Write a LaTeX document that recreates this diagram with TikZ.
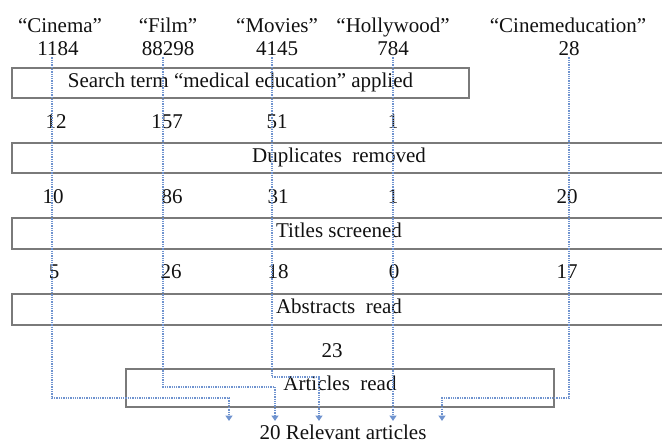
\documentclass[tikz,border=0pt]{standalone}
\usepackage{fontspec}
\setmainfont{Liberation Serif}
\usepackage{xcolor}
\usepackage{tikz}
\usetikzlibrary{arrows.meta,positioning,calc}
\definecolor{boxgray}{HTML}{7A7A7A}
\definecolor{flowblue}{HTML}{6F93CF}
\definecolor{inkgray}{HTML}{111111}
\tikzset{
  stagebox/.style={draw=boxgray,line width=1.2pt,inner sep=0pt,
    minimum height=30pt,text height=0.8em,text depth=0pt,
    text=inkgray,font=\fontsize{21}{24}\selectfont},
  tally/.style={anchor=base,inner sep=2pt,text=inkgray,
    font=\fontsize{21}{24}\selectfont},
  flowarrow/.style={-{Triangle[length=5.5pt,width=7pt]},densely dotted,
    line width=1.3pt,draw=flowblue}
}

\begin{document}
\begin{tikzpicture}[x=1pt,y=-1pt]
\useasboundingbox (0,0) rectangle (662,445);
% search terms and hits
\node[tally] (tCinema) at (60,32) {“Cinema”};
\node[tally] (tFilm) at (168,32) {“Film”};
\node[tally] (tMovies) at (277,32) {“Movies”};
\node[tally] (tHolly) at (393,32) {“Hollywood”};
\node[tally] (tCinemed) at (568,32) {“Cinemeducation”};
\node[tally] (n1184) at (58,55) {1184};
\node[tally] (n88298) at (168,55) {88298};
\node[tally] (n4145) at (277,55) {4145};
\node[tally] (n784) at (393,55) {784};
\node[tally] (n28) at (569,55) {28};
% screening stages
\node[stagebox,minimum width=457pt] (search) at (240.5,83) {Search term “medical education” applied};
\node[stagebox,minimum width=654pt] (dupes) at (339,158) {Duplicates\ \ removed};
\node[stagebox,minimum width=654pt,minimum height=31pt] (titles) at (339,233.5) {Titles screened};
\node[stagebox,minimum width=654pt,minimum height=31pt] (abstracts) at (339,309.5) {Abstracts\ \ read};
\node[stagebox,minimum width=428pt,minimum height=38pt,text height=0.45em] (articles) at (340,388) {Articles\ \ read};
% counts after each stage
\node[tally] (a12) at (56,128) {12};
\node[tally] (a157) at (167,128) {157};
\node[tally] (a51) at (277,128) {51};
\node[tally] (a1) at (393,128) {1};
\node[tally] (b10) at (53,203) {10};
\node[tally] (b86) at (172,203) {86};
\node[tally] (b31) at (278,203) {31};
\node[tally] (b1) at (393,203) {1};
\node[tally] (b20) at (567,203) {20};
\node[tally] (c5) at (54,278) {5};
\node[tally] (c26) at (171,278) {26};
\node[tally] (c18) at (278,278) {18};
\node[tally] (c0) at (394,278) {0};
\node[tally] (c17) at (567,278) {17};
\node[tally] (d23) at (332,357) {23};
\node[tally] (rel) at (343,439.5) {20 Relevant articles};
% arrow ends above the result
\coordinate (e1) at (229,421);
\coordinate (e2) at (275,421);
\coordinate (e3) at (319,421);
\coordinate (e4) at (393,421);
\coordinate (e5) at (442,421);
\draw[flowarrow] ([xshift=-6pt]n1184.south) |- ([yshift=23pt]e1) -- (e1);
\draw[flowarrow] ([xshift=-5pt]n88298.south) |- ([yshift=34pt]e2) -- (e2);
\draw[flowarrow] ([xshift=-5pt]n4145.south) |- ([yshift=44pt]e3) -- (e3);
\draw[flowarrow] (n784.south) -- (e4);
\draw[flowarrow] (n28.south) |- ([yshift=23pt]e5) -- (e5);
\end{tikzpicture}
\end{document}
